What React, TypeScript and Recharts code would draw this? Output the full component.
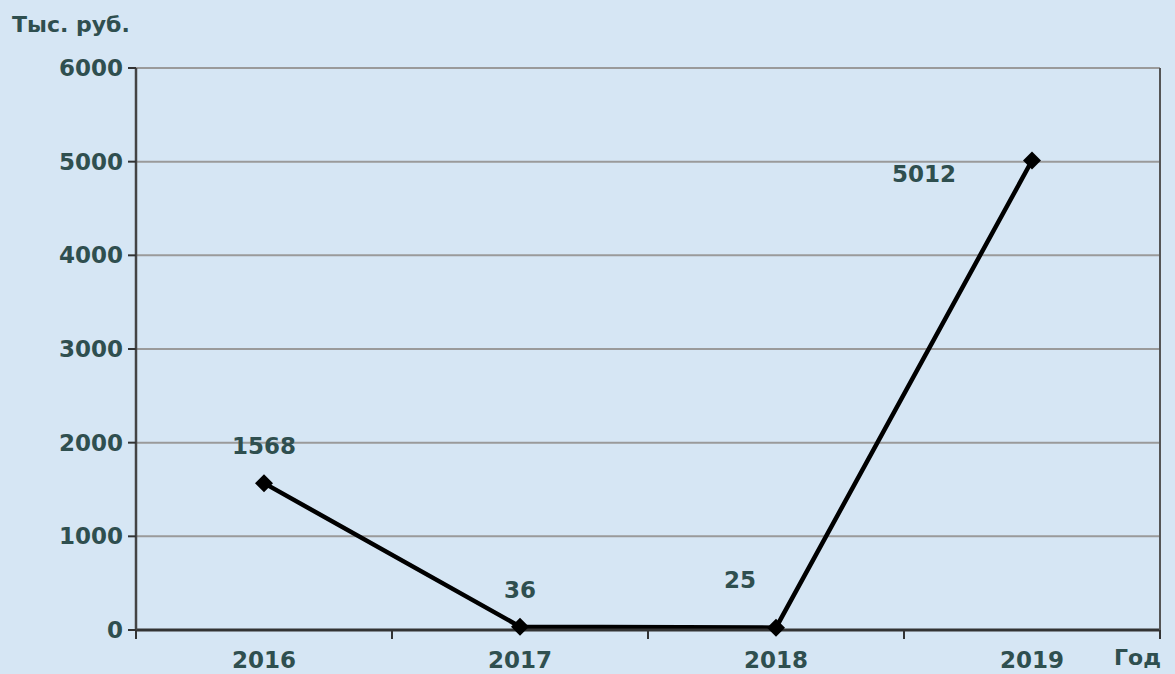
import React from 'react'
import { LineChart, Line, XAxis, YAxis, CartesianGrid, LabelList } from 'recharts'

const years = ['2016', '2017', '2018', '2019']
const values = [1568, 36, 25, 5012]
const yTicks = [0, 1000, 2000, 3000, 4000, 5000, 6000]

const data = years.map((year, i) => ({ year, value: values[i] }))

const TEXT = '#2f4f4f'
const FONT = '"DejaVu Sans", Verdana, sans-serif'

// label placement relative to each point, as in the original picture
const LABEL_OFFSETS = [
  { dx: 0, dy: -37 },
  { dx: 0, dy: -37 },
  { dx: -36, dy: -48 },
  { dx: -108, dy: 13 },
]

function Diamond(props: any) {
  const { cx, cy } = props
  if (cx == null || cy == null) return null
  const r = 9
  return <polygon points={`${cx},${cy - r} ${cx + r},${cy} ${cx},${cy + r} ${cx - r},${cy}`} fill="#000" />
}

function PointLabel(props: any) {
  const { x, y, value, index } = props
  const o = LABEL_OFFSETS[index] || { dx: 0, dy: -30 }
  return (
    <text x={x + o.dx} y={y + o.dy} textAnchor="middle" dominantBaseline="central"
      fill={TEXT} fontFamily={FONT} fontWeight="bold" fontSize={23}>
      {value}
    </text>
  )
}

// year label at the band centre, tick marks on the band edges
function YearTick(props: any) {
  const { x, y, payload, index, visibleTicksCount } = props
  const half = payload && payload.offset ? payload.offset : 0
  const last = index === (visibleTicksCount ?? years.length) - 1
  return (
    <g>
      {half > 0 && <line x1={x - half} x2={x - half} y1={y} y2={y + 9} stroke="#333" strokeWidth={2} />}
      {half > 0 && last && <line x1={x + half} x2={x + half} y1={y} y2={y + 9} stroke="#333" strokeWidth={2} />}
      <text x={x} y={y + 30} textAnchor="middle" dominantBaseline="central"
        fill={TEXT} fontFamily={FONT} fontWeight="bold" fontSize={23}>
        {payload.value}
      </text>
    </g>
  )
}

function EmptyTick() {
  return <g />
}

export default function App() {
  return (
    <div style={{ position: 'absolute', left: 0, top: 0, width: 1175, height: 674, background: '#d6e6f4', fontFamily: FONT }}>
      <div style={{ position: 'absolute', left: 12, top: 12, fontSize: 22, fontWeight: 'bold', color: TEXT }}>Тыс. руб.</div>
      <div style={{ position: 'absolute', left: 1114, top: 645, fontSize: 22, fontWeight: 'bold', color: TEXT }}>Год</div>
      <LineChart width={1175} height={674} data={data} margin={{ top: 68, right: 14, bottom: 0, left: 0 }}>
        <CartesianGrid vertical={false} stroke="#9a9a9a" strokeWidth={2} />
        <XAxis dataKey="year" scale="band" height={44} tickLine={false} tickSize={0} tickMargin={0}
          axisLine={{ stroke: '#333', strokeWidth: 3 }} tick={<YearTick />} interval={0} />
        <YAxis domain={[0, 6000]} ticks={yTicks} width={136} tickSize={8}
          axisLine={{ stroke: '#444', strokeWidth: 2.5 }} tickLine={{ stroke: '#333', strokeWidth: 2 }}
          tick={{ fill: TEXT, fontSize: 23, fontWeight: 'bold', fontFamily: FONT }} dx={-3} />
        <YAxis yAxisId="r" orientation="right" domain={[0, 6000]} width={1} tick={<EmptyTick />} tickLine={false}
          axisLine={{ stroke: '#555', strokeWidth: 2 }} />
        <Line dataKey="value" stroke="#000" strokeWidth={4.5} dot={<Diamond />} activeDot={false}
          isAnimationActive={false}>
          <LabelList dataKey="value" content={<PointLabel />} />
        </Line>
      </LineChart>
    </div>
  )
}
